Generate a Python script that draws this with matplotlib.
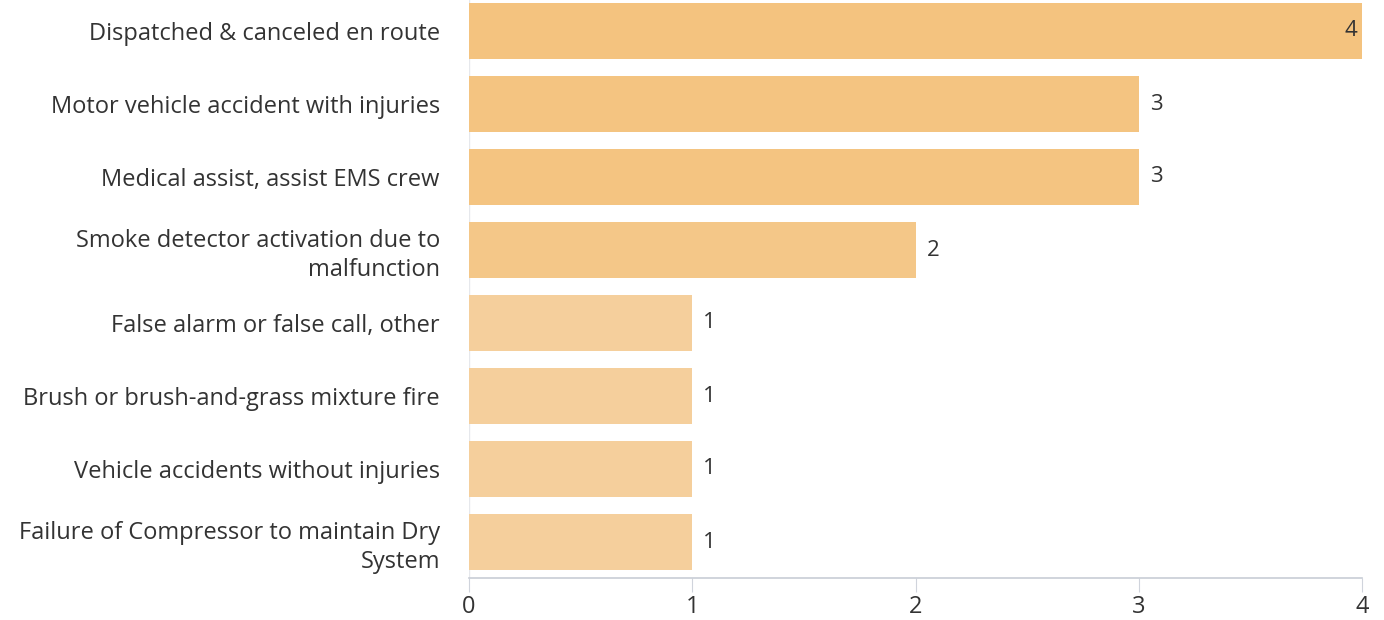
import matplotlib.pyplot as plt

plt.rcParams['font.family'] = ['Open Sans', 'DejaVu Sans']

# incident types and counts
categories = [
    "Dispatched & canceled en route",
    "Motor vehicle accident with injuries",
    "Medical assist, assist EMS crew",
    "Smoke detector activation due to\nmalfunction",
    "False alarm or false call, other",
    "Brush or brush-and-grass mixture fire",
    "Vehicle accidents without injuries",
    "Failure of Compressor to maintain Dry\nSystem",
]
counts = [4, 3, 3, 2, 1, 1, 1, 1]
bar_colors = ["#F4C37F", "#F4C481", "#F4C481", "#F4C788",
              "#F5CF9C", "#F5CF9C", "#F5CF9C", "#F5CF9C"]
x_ticks = [0, 1, 2, 3, 4]

fig = plt.figure(figsize=(13.84, 6.2), dpi=100)
ax = fig.add_axes([469 / 1384, 1 - 578 / 620, (1362 - 469) / 1384, 578 / 620])

ypos = list(range(len(categories)))
ax.barh(ypos, counts, height=0.77, color=bar_colors)

text_color = "#333333"
for y, v in zip(ypos, counts):
    if v == max(counts):
        ax.text(v - 0.02, y, str(v), va="center", ha="right",
                fontsize=16, color=text_color)
    else:
        ax.text(v + 0.05, y, str(v), va="center", ha="left",
                fontsize=16, color=text_color)

ax.set_xlim(0, 4)
ax.set_ylim(7 + 36 / 73, -31 / 73)
ax.set_yticks(ypos)
ax.set_yticklabels(categories, fontsize=17, color=text_color, linespacing=1.25)
ax.set_xticks(x_ticks)
ax.set_xticklabels([str(t) for t in x_ticks], fontsize=17, color=text_color)

for s in ["top", "right", "left"]:
    ax.spines[s].set_visible(False)
ax.spines["bottom"].set_color("#c8cdd6")
ax.spines["bottom"].set_linewidth(1.2)
ax.tick_params(axis="y", length=0, pad=21)
ax.tick_params(axis="x", length=10, color="#d0d4dc", pad=2)
ax.axvline(0, color="#e6e8ec", lw=1, zorder=0)

fig.savefig("out.png", dpi=100)
